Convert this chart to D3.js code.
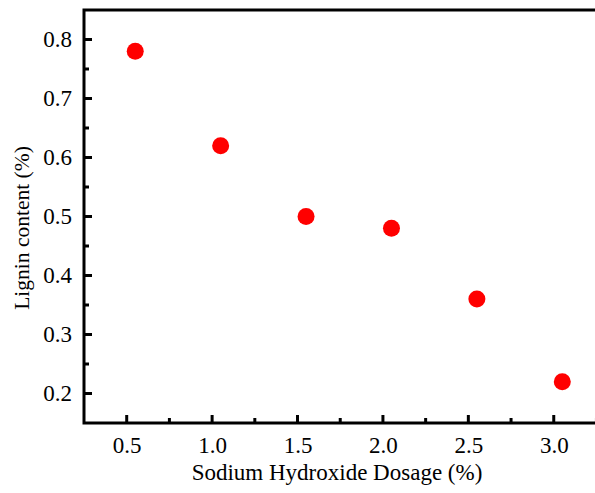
<!DOCTYPE html>
<html>
<head>
<meta charset="utf-8">
<script src="https://cdn.jsdelivr.net/npm/d3@7"></script>
<style>
	html, body { margin: 0; padding: 0; background: #fff; overflow: hidden; }
	svg { display: block; }
</style>
</head>
<body>
<script>
// data
const dosage = [0.55, 1.05, 1.55, 2.05, 2.55, 3.05];
const lignin = [0.78, 0.62, 0.50, 0.48, 0.36, 0.22];
const xTicks = [0.5, 1.0, 1.5, 2.0, 2.5, 3.0];
const yTicks = [0.2, 0.3, 0.4, 0.5, 0.6, 0.7, 0.8];
const xMinor = [0.75, 1.25, 1.75, 2.25, 2.75, 3.25];
const yMinor = [0.25, 0.35, 0.45, 0.55, 0.65, 0.75];

const WIDTH = 595;
const HEIGHT = 493;
const PLOT = { left: 84, top: 10, right: 605, bottom: 423 };
const FONT = "'Liberation Serif', 'DejaVu Serif', serif";
const AXIS_W = 3;

const svg = d3.select("body").append("svg")
	.attr("width", WIDTH)
	.attr("height", HEIGHT);

const x = d3.scaleLinear()
	.domain([0.25, 3.3])
	.range([PLOT.left, PLOT.right]);

const y = d3.scaleLinear()
	.domain([0.15, 0.85])
	.range([PLOT.bottom, PLOT.top]);

// frame (right side falls outside the picture)
svg.append("rect")
	.attr("x", PLOT.left)
	.attr("y", PLOT.top)
	.attr("width", PLOT.right - PLOT.left)
	.attr("height", PLOT.bottom - PLOT.top)
	.attr("fill", "none")
	.attr("stroke", "#000")
	.attr("stroke-width", AXIS_W);

// x axis: ticks point inward
const xAxis = d3.axisBottom(x)
	.tickValues(xTicks)
	.tickFormat(d3.format(".1f"))
	.tickSize(0)
	.tickPadding(14);

const xAxisGroup = svg.append("g")
	.attr("transform", `translate(0,${PLOT.bottom})`)
	.call(xAxis);

xAxisGroup.select(".domain").remove();
xAxisGroup.selectAll(".tick text")
	.attr("font-family", FONT)
	.attr("font-size", "23px")
	.attr("fill", "#000");

svg.append("g").selectAll("line")
	.data(xTicks)
	.join("line")
	.attr("x1", d => x(d)).attr("x2", d => x(d))
	.attr("y1", PLOT.bottom).attr("y2", PLOT.bottom - 8)
	.attr("stroke", "#000").attr("stroke-width", 3);

svg.append("g").selectAll("line")
	.data(xMinor)
	.join("line")
	.attr("x1", d => x(d)).attr("x2", d => x(d))
	.attr("y1", PLOT.bottom).attr("y2", PLOT.bottom - 5)
	.attr("stroke", "#000").attr("stroke-width", 3);

// y axis
const yAxis = d3.axisLeft(y)
	.tickValues(yTicks)
	.tickFormat(d3.format(".1f"))
	.tickSize(0)
	.tickPadding(12);

const yAxisGroup = svg.append("g")
	.attr("transform", `translate(${PLOT.left},0)`)
	.call(yAxis);

yAxisGroup.select(".domain").remove();
yAxisGroup.selectAll(".tick text")
	.attr("font-family", FONT)
	.attr("font-size", "23px")
	.attr("fill", "#000");

svg.append("g").selectAll("line")
	.data(yTicks)
	.join("line")
	.attr("x1", PLOT.left).attr("x2", PLOT.left + 8)
	.attr("y1", d => y(d)).attr("y2", d => y(d))
	.attr("stroke", "#000").attr("stroke-width", 3);

svg.append("g").selectAll("line")
	.data(yMinor)
	.join("line")
	.attr("x1", PLOT.left).attr("x2", PLOT.left + 5)
	.attr("y1", d => y(d)).attr("y2", d => y(d))
	.attr("stroke", "#000").attr("stroke-width", 3);

// points
svg.append("g").selectAll("circle")
	.data(dosage.map((d, i) => ({ x: d, y: lignin[i] })))
	.join("circle")
	.attr("cx", d => x(d.x))
	.attr("cy", d => y(d.y))
	.attr("r", 8.5)
	.attr("fill", "#ff0000");

// axis titles
svg.append("text")
	.attr("x", 337)
	.attr("y", 480)
	.attr("text-anchor", "middle")
	.attr("font-family", FONT)
	.attr("font-size", "23px")
	.attr("fill", "#000")
	.text("Sodium Hydroxide Dosage (%)");

svg.append("text")
	.attr("transform", "translate(29,228) rotate(-90)")
	.attr("text-anchor", "middle")
	.attr("font-family", FONT)
	.attr("font-size", "21.5px")
	.attr("fill", "#000")
	.text("Lignin content (%)");
</script>
</body>
</html>
